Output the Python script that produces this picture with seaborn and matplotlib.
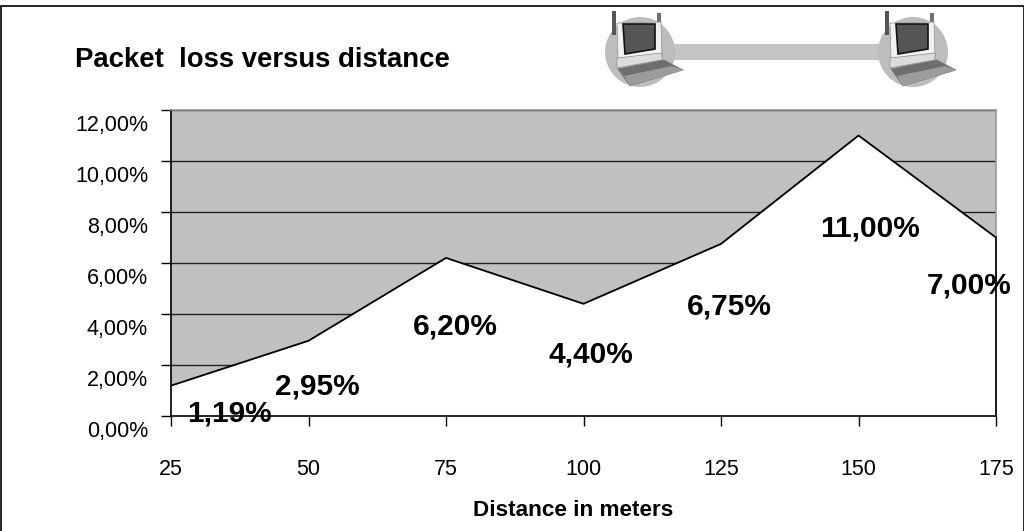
import matplotlib
matplotlib.use("Agg")
import matplotlib.pyplot as plt
import matplotlib.transforms as mtrans
from matplotlib.patches import Circle, Polygon, Rectangle
import seaborn as sns
import pandas as pd

distance = [25, 50, 75, 100, 125, 150, 175]
loss = [1.19, 2.95, 6.20, 4.40, 6.75, 11.00, 7.00]
y_ticks = [0, 2, 4, 6, 8, 10, 12]
# where each label sits relative to its point, in px (up is positive)
label_dx = [16, -33, -33, -35, -34, -38, -69]
label_dy = [-28, -46, -69, -51, -63, -93, -48]

W, H = 1024, 531


def pct(v):
    return f"{v:.2f}".replace(".", ",") + "%"


def laptop(ax, ox):
    # little laptop clip art, ox is left edge of the left antenna
    ax.add_patch(Circle((ox + 28, 52), 35, fc="#bdbdbd", ec="none"))
    ax.add_patch(Rectangle((ox, 11), 4, 24, fc="#555555", ec="none"))
    ax.add_patch(Rectangle((ox + 45, 13), 4, 22, fc="#707070", ec="none"))
    ax.add_patch(Polygon([(ox + 5, 23), (ox + 49, 22), (ox + 50, 56), (ox + 6, 60)],
                         fc="#f0f0f0", ec="#9a9a9a", lw=0.6))
    ax.add_patch(Polygon([(ox + 11, 24), (ox + 43, 24), (ox + 43, 49), (ox + 13, 54)],
                         fc="#555555", ec="#111111", lw=1.2))
    ax.add_patch(Polygon([(ox + 5, 58), (ox + 50, 53), (ox + 50, 60), (ox + 5, 68)],
                         fc="#dcdcdc", ec="#8a8a8a", lw=0.5))
    ax.add_patch(Polygon([(ox + 6, 69), (ox + 52, 60), (ox + 71, 70), (ox + 18, 86)],
                         fc="#6e6e6e", ec="#7a7a7a", lw=0.5))
    ax.add_patch(Polygon([(ox + 12, 76), (ox + 60, 66), (ox + 71, 70), (ox + 18, 86)],
                         fc="#9c9c9c", ec="none"))


sns.set_theme(style="white")
plt.rcParams['font.family'] = ['Liberation Sans', 'DejaVu Sans']

fig = plt.figure(figsize=(W / 100, H / 100), dpi=100, facecolor="white")

# overlay in pixel coords for frame and clip art
bg = fig.add_axes([0, 0, 1, 1])
bg.set_xlim(0, W)
bg.set_ylim(H, 0)
bg.axis("off")
bg.add_patch(Rectangle((0.5, 5.5), W - 1, H, fc="white", ec="black", lw=1.2))
bg.add_patch(Rectangle((670, 44), 215, 16, fc="#c4c4c4", ec="none"))
laptop(bg, 612)
laptop(bg, 885)

ax = fig.add_axes([171 / W, 1 - 416 / H, 825 / W, 306 / H])
ax.set_facecolor("#c0c0c0")

df = pd.DataFrame({"distance": distance, "loss": loss})
ax.set_xlim(25, 175)
ax.set_ylim(0, 12)
ax.set_yticks(y_ticks)
ax.set_xticks(distance)
ax.yaxis.grid(True, color="#222222", lw=1)
ax.set_axisbelow(True)
ax.fill_between(df["distance"], 0, df["loss"], color="white", zorder=1.5, lw=0)
sns.lineplot(data=df, x="distance", y="loss", color="black", lw=1.3, ax=ax, zorder=2)

ax.set_xticklabels([str(d) for d in distance])
ax.set_yticklabels([pct(v) for v in y_ticks])
ax.tick_params(axis="both", length=7, width=1, color="black", labelsize=15.5,
               labelcolor="black", bottom=True, left=True)
ax.tick_params(axis="y", pad=9.5)
ax.tick_params(axis="x", pad=24)
# value labels sit lower than their ticks in the original
shift = mtrans.ScaledTranslation(0, -13 / 100, fig.dpi_scale_trans)
for t in ax.get_yticklabels():
    t.set_transform(t.get_transform() + shift)

ax.set_xlabel("Distance in meters", fontsize=16.2, fontweight="bold", color="black",
              va="center")
ax.xaxis.set_label_coords((573 - 171) / 825, -(510 - 416) / 306)
ax.set_ylabel("")

for s in ["top", "right"]:
    ax.spines[s].set_visible(True)
    ax.spines[s].set_color("#999999")
    ax.spines[s].set_linewidth(1.2)
for s in ["left", "bottom"]:
    ax.spines[s].set_visible(True)
    ax.spines[s].set_color("black")
    ax.spines[s].set_linewidth(1.2)

# right edge is black only under the last point
ax.plot([distance[-1], distance[-1]], [0, loss[-1]], color="black", lw=1.2, clip_on=False, zorder=3)

for x, y, dx, dy in zip(distance, loss, label_dx, label_dy):
    ax.annotate(pct(y), xy=(x, y), xytext=(dx * 0.72, dy * 0.72), textcoords="offset points",
                fontsize=21.5, fontweight="bold", color="black", ha="left", va="center",
                annotation_clip=False, zorder=5)

bg.text(75, 60, "Packet  loss versus distance", fontsize=19.8, fontweight="bold",
        color="black", ha="left", va="center")

fig.savefig("out.png", dpi=100)
